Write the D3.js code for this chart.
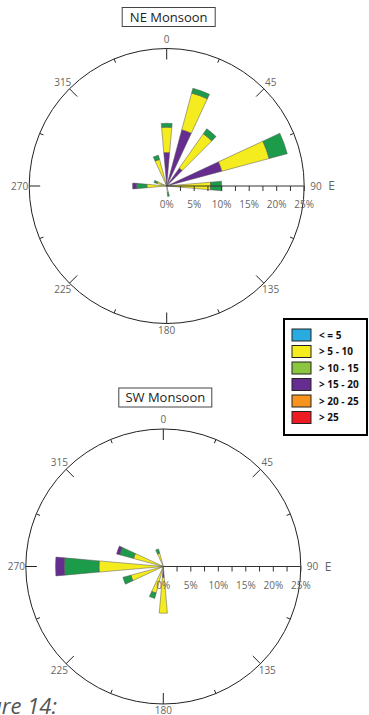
<!DOCTYPE html>
<html>
<head>
<meta charset="utf-8">
<script src="https://cdn.jsdelivr.net/npm/d3@7"></script>
<style>
  body { margin: 0; background: #fff; }
  svg { display: block; font-family: "Open Sans", sans-serif; }
</style>
</head>
<body>
<svg id="chart" width="369" height="715"></svg>
<script>
// speed classes (legend)
const classLabels = ["< = 5", "> 5 - 10", "> 10 - 15", "> 15 - 20", "> 20 - 25", "> 25"];
const classColors = ["#29abe2", "#f5ec1f", "#8cc63f", "#662d91", "#f7931e", "#ed1c24"];
// colours actually used in the petals
const petalColors = { y: "#f5ec1f", g: "#1c9b4a", p: "#662d91" };

// NE Monsoon - direction (deg) and segment lengths (%) per class
const neDir    = [0, 20, 40, 70, 90, 170, 270, 290, 340];
const neYellow = [4.6, 6.9, 7.6, 8.9, 8.0, 1.2, 3.6, 1.8, 5.0];
const neGreen  = [0.7, 0.9, 1.1, 3.4, 2.0, 0.7, 1.9, 0.6, 0.8];
const nePurple = [6.1, 10.6, 4.0, 10.4, 0, 0, 0.7, 0, 0];
const neOrder  = ["pyg", "pyg", "pyg", "pyg", "yg", "yg", "ygp", "yg", "yg"];

// SW Monsoon
const swDir    = [180, 200, 250, 270, 290, 340];
const swYellow = [6.5, 5.0, 6.1, 11.7, 5.6, 2.5];
const swGreen  = [0, 1.0, 1.5, 6.3, 2.6, 0.8];
const swPurple = [2.0, 0, 0, 1.6, 0.6, 0];
const swOrder  = ["py", "yg", "yg", "ygp", "ygp", "yg"];

const compassLabels = [0, 45, 135, 180, 225, 270, 315];
const pctTicks = [0, 5, 10, 15, 20, 25];

const svg = d3.select("#chart");
const R = 137.5;
const rScale = d3.scaleLinear().domain([0, 25]).range([0, R]);
const rad = d => d * Math.PI / 180;

function drawRose(cx, cy, title, dirs, yellow, green, purple, order) {
  const g = svg.append("g").attr("transform", `translate(${cx},${cy})`);

  // title box
  const tb = svg.append("g").attr("transform", `translate(${cx + 2},${cy - 169})`);
  tb.append("rect").attr("x", -46.5).attr("y", -9.5).attr("width", 93).attr("height", 19)
    .attr("fill", "#fff").attr("stroke", "#444").attr("stroke-width", 1);
  tb.append("text").attr("text-anchor", "middle").attr("dy", "0.36em")
    .attr("font-size", 13).attr("fill", "#222").text(title);

  // outer circle
  g.append("circle").attr("r", R).attr("fill", "none").attr("stroke", "#222").attr("stroke-width", 1);

  // compass ticks
  d3.range(0, 360, 22.5).forEach(a => {
    if (a === 90) return;
    const len = a % 45 === 0 ? 11 : 4;
    const s = Math.sin(rad(a)), c = -Math.cos(rad(a));
    g.append("line")
      .attr("x1", s * R).attr("y1", c * R)
      .attr("x2", s * (R - len)).attr("y2", c * (R - len))
      .attr("stroke", "#222").attr("stroke-width", 1);
  });
  compassLabels.forEach(a => {
    const s = Math.sin(rad(a)), c = -Math.cos(rad(a));
    const lr = a === 180 ? 144 : 147;
    g.append("text").attr("x", s * lr).attr("y", c * lr)
      .attr("text-anchor", "middle").attr("dy", "0.35em")
      .attr("font-size", 10).attr("fill", "#666").text(a);
  });

  // petals
  const arc = d3.arc();
  dirs.forEach((d, i) => {
    const vals = { y: yellow[i], g: green[i], p: purple[i] };
    let r0 = 0;
    order[i].split("").forEach(k => {
      const v = vals[k];
      if (!v) return;
      g.append("path")
        .attr("d", arc({
          innerRadius: rScale(r0), outerRadius: rScale(r0 + v),
          startAngle: rad(d - 5), endAngle: rad(d + 5)
        }))
        .attr("fill", petalColors[k]).attr("stroke", "#555").attr("stroke-width", 0.5);
      r0 += v;
    });
  });

  // radial percent axis
  g.append("line").attr("x1", 0).attr("y1", 0).attr("x2", R).attr("y2", 0)
    .attr("stroke", "#333").attr("stroke-width", 1);
  d3.range(2.5, 25.1, 2.5).forEach(p => {
    g.append("line").attr("x1", rScale(p)).attr("x2", rScale(p)).attr("y1", 0).attr("y2", 5)
      .attr("stroke", "#333").attr("stroke-width", 1);
  });
  pctTicks.forEach(p => {
    g.append("text").attr("x", rScale(p)).attr("y", 22)
      .attr("text-anchor", "middle").attr("font-size", 10).attr("fill", "#666").text(p + "%");
  });
  g.append("text").attr("x", R + 6).attr("y", 0).attr("dy", "0.35em")
    .attr("font-size", 10).attr("fill", "#666").text("90");
  g.append("text").attr("x", R + 24).attr("y", 0).attr("dy", "0.35em")
    .attr("font-size", 12).attr("fill", "#666").text("E");
}

drawRose(166.7, 186, "NE Monsoon", neDir, neYellow, neGreen, nePurple, neOrder);
drawRose(163.3, 566.5, "SW Monsoon", swDir, swYellow, swGreen, swPurple, swOrder);

// legend
const lg = svg.append("g").attr("transform", "translate(284,319)");
lg.append("rect").attr("width", 83).attr("height", 116)
  .attr("fill", "#fff").attr("stroke", "#000").attr("stroke-width", 2);
classLabels.forEach((t, i) => {
  const y = 10 + i * 16.5;
  lg.append("rect").attr("x", 8).attr("y", y).attr("width", 19).attr("height", 12)
    .attr("fill", classColors[i]).attr("stroke", "#222").attr("stroke-width", 1);
  lg.append("text").attr("x", 35).attr("y", y + 6).attr("dy", "0.35em")
    .attr("font-size", 10).attr("font-weight", "bold").attr("fill", "#111").text(t);
});

// caption fragment
svg.append("text").attr("x", 57).attr("y", 714).attr("text-anchor", "end")
  .attr("font-size", 22).attr("font-style", "italic").attr("fill", "#555").text("Figure 14:");
</script>
</body>
</html>
